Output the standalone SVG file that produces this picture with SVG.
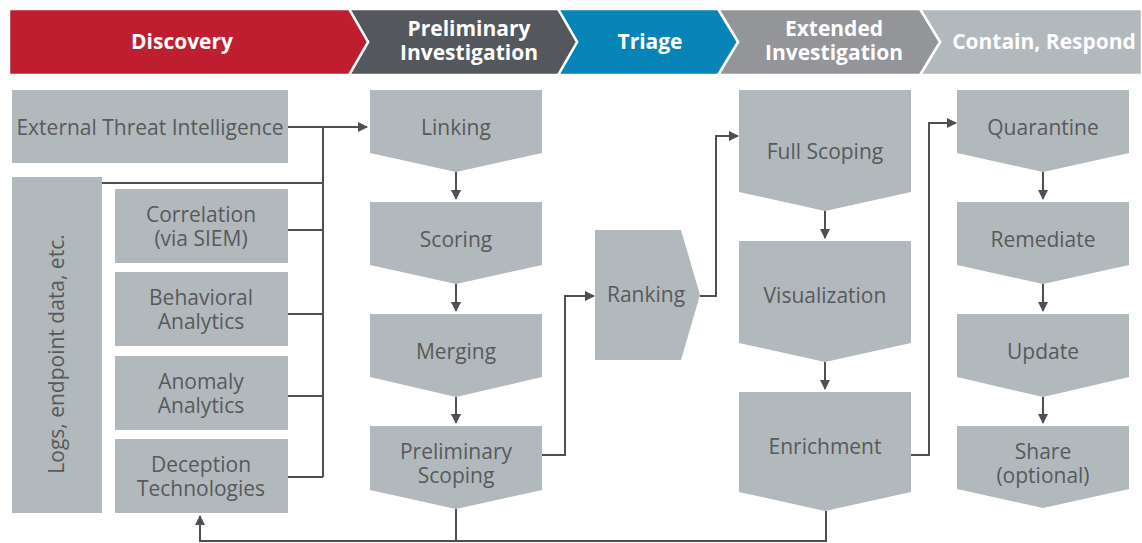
<svg xmlns="http://www.w3.org/2000/svg" width="1142" height="543" viewBox="0 0 1142 543">
<style>
.hd{font-family:"Open Sans","Liberation Sans",sans-serif;font-weight:bold;font-size:21px;fill:#ffffff;text-anchor:middle}
.nd{fill:#b1b9bd}
.tx{font-family:"Open Sans","Liberation Sans",sans-serif;font-size:21px;fill:#58595b;text-anchor:middle}
.ln{fill:none;stroke:#4d4f53;stroke-width:2}
.ar{fill:none;stroke:#4d4f53;stroke-width:2;marker-end:url(#ah)}
.sep{stroke:#ffffff;stroke-width:2.5}
</style>
<defs>
<marker id="ah" viewBox="0 0 10 10" refX="9" refY="5" markerWidth="10" markerHeight="10" markerUnits="userSpaceOnUse" orient="auto">
<path d="M0,0 L10,5 L0,10 z" fill="#4d4f53"/>
</marker>
</defs>
<g id="header">
<polygon points="1142,9 920,9 940,42 920,75 1142,75" fill="#b1b9bd" class="sep"/>
<polygon points="718,9 920,9 940,42 920,75 718,75 738,42" fill="#939598" class="sep"/>
<polygon points="558,9 718,9 738,42 718,75 558,75 577,42" fill="#0785b8" class="sep"/>
<polygon points="349,9 558,9 577,42 558,75 349,75 368,42" fill="#54575b" class="sep"/>
<polygon points="9,9 349,9 368,42 349,75 9,75" fill="#be1e2d" class="sep"/>
<text class="hd" x="182" y="49">Discovery</text>
<text class="hd" x="469" y="36">Preliminary</text>
<text class="hd" x="469" y="60">Investigation</text>
<text class="hd" x="650" y="49">Triage</text>
<text class="hd" x="834" y="36">Extended</text>
<text class="hd" x="834" y="60">Investigation</text>
<text class="hd" x="1044" y="49">Contain, Respond</text>
</g>
<g id="connectors">
<path class="ar" d="M288,127 H367"/>
<path class="ln" d="M323,127 V477"/>
<path class="ln" d="M102,183 H323"/>
<path class="ln" d="M288,230 H323"/>
<path class="ln" d="M288,314 H323"/>
<path class="ln" d="M288,396 H323"/>
<path class="ln" d="M288,477 H323"/>
<path class="ar" d="M456,172 V199"/>
<path class="ar" d="M456,284 V311"/>
<path class="ar" d="M456,397 V423"/>
<path class="ar" d="M542,455 H565 V296 H594"/>
<path class="ar" d="M700,296 H716 V136 H738"/>
<path class="ar" d="M825,211 V238"/>
<path class="ar" d="M825,362 V389"/>
<path class="ar" d="M911,455 H929 V123 H956"/>
<path class="ar" d="M1043,172 V199"/>
<path class="ar" d="M1043,284 V311"/>
<path class="ar" d="M1043,397 V423"/>
<path class="ar" d="M456,509 V541 H200 V516"/>
<path class="ln" d="M826,511 V541 H455"/>
</g>
<g id="ext"><rect class="nd" x="12" y="90" width="276" height="73"/><text class="tx" x="150" y="135">External Threat Intelligence</text></g>
<g id="logs"><rect class="nd" x="12" y="177" width="90" height="336"/><text class="tx" transform="translate(64,354) rotate(-90)" x="0" y="0">Logs, endpoint data, etc.</text></g>
<g id="correlation"><rect class="nd" x="115" y="189" width="173" height="74"/><text class="tx" x="201" y="222">Correlation</text><text class="tx" x="201" y="246">(via SIEM)</text></g>
<g id="behavioral"><rect class="nd" x="115" y="272" width="173" height="74"/><text class="tx" x="201" y="305">Behavioral</text><text class="tx" x="201" y="329">Analytics</text></g>
<g id="anomaly"><rect class="nd" x="115" y="356" width="173" height="74"/><text class="tx" x="201" y="389">Anomaly</text><text class="tx" x="201" y="413">Analytics</text></g>
<g id="deception"><rect class="nd" x="115" y="439" width="173" height="74"/><text class="tx" x="201" y="472">Deception</text><text class="tx" x="201" y="496">Technologies</text></g>
<g id="linking"><polygon class="nd" points="370,90 542,90 542,153 456,172 370,153"/><text class="tx" x="456" y="135">Linking</text></g>
<g id="scoring"><polygon class="nd" points="370,202 542,202 542,265 456,284 370,265"/><text class="tx" x="456" y="247">Scoring</text></g>
<g id="merging"><polygon class="nd" points="370,314 542,314 542,377 456,397 370,377"/><text class="tx" x="456" y="359">Merging</text></g>
<g id="prelimscoping"><polygon class="nd" points="370,426 542,426 542,490 456,509 370,490"/><text class="tx" x="456" y="459">Preliminary</text><text class="tx" x="456" y="483">Scoping</text></g>
<g id="ranking"><polygon class="nd" points="595,230 681,230 700,295 681,360 595,360"/><text class="tx" x="646" y="302">Ranking</text></g>
<g id="fullscoping"><polygon class="nd" points="739,90 911,90 911,192 825,211 739,192"/><text class="tx" x="825" y="159">Full Scoping</text></g>
<g id="visualization"><polygon class="nd" points="739,241 911,241 911,343 825,362 739,343"/><text class="tx" x="825" y="303">Visualization</text></g>
<g id="enrichment"><polygon class="nd" points="739,392 911,392 911,492 825,511 739,492"/><text class="tx" x="825" y="454">Enrichment</text></g>
<g id="quarantine"><polygon class="nd" points="957,90 1129,90 1129,153 1043,172 957,153"/><text class="tx" x="1043" y="135">Quarantine</text></g>
<g id="remediate"><polygon class="nd" points="957,202 1129,202 1129,265 1043,284 957,265"/><text class="tx" x="1043" y="247">Remediate</text></g>
<g id="update"><polygon class="nd" points="957,314 1129,314 1129,377 1043,397 957,377"/><text class="tx" x="1043" y="359">Update</text></g>
<g id="share"><polygon class="nd" points="957,426 1129,426 1129,489 1043,508 957,489"/><text class="tx" x="1043" y="459">Share</text><text class="tx" x="1043" y="483">(optional)</text></g>
</svg>
